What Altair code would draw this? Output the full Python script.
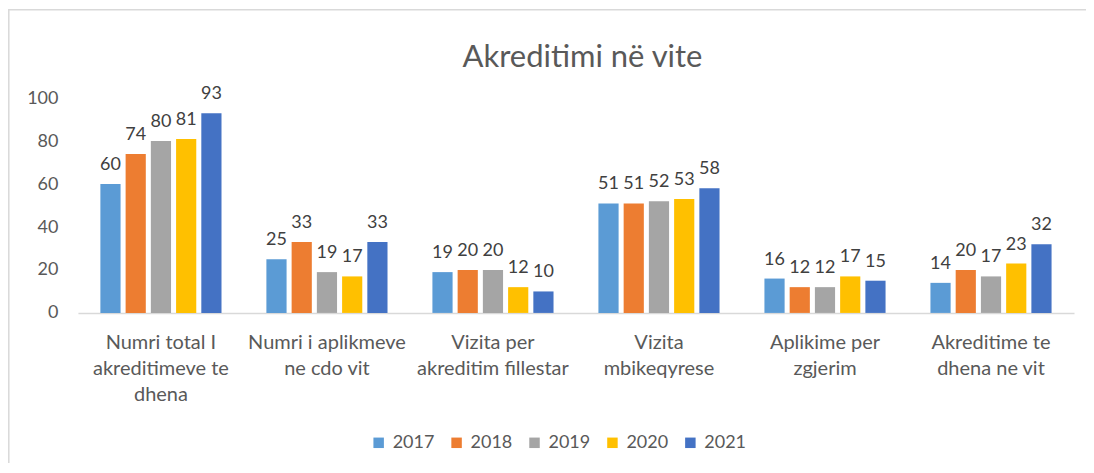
import altair as alt
import pandas as pd

categories = [
    "Numri total I\nakreditimeve te\ndhena",
    "Numri i aplikmeve\nne cdo vit",
    "Vizita per\nakreditim fillestar",
    "Vizita\nmbikeqyrese",
    "Aplikime per\nzgjerim",
    "Akreditime te\ndhena ne vit",
]
years = ["2017", "2018", "2019", "2020", "2021"]
v2017 = [60, 25, 19, 51, 16, 14]
v2018 = [74, 33, 20, 51, 12, 20]
v2019 = [80, 19, 20, 52, 12, 17]
v2020 = [81, 17, 12, 53, 17, 23]
v2021 = [93, 33, 10, 58, 15, 32]
colors = ["#5B9BD5", "#ED7D31", "#A5A5A5", "#FFC000", "#4472C4"]
title_text = "Akreditimi në vite"

series = [v2017, v2018, v2019, v2020, v2021]
rows = []
for y, vals in zip(years, series):
    for c, v in zip(categories, vals):
        rows.append({"cat": c, "year": y, "value": v})
df = pd.DataFrame(rows)

FONT = "Lato"
TXT = "#595959"

x_enc = alt.X(
    "cat:N", sort=categories, title=None,
    scale=alt.Scale(paddingInner=0.24, paddingOuter=0.12),
    axis=alt.Axis(labelExpr="split(datum.label, '\\n')", labelAngle=0,
                  labelFont=FONT, labelFontSize=20, labelColor=TXT,
                  labelLineHeight=26, labelPadding=20, ticks=False,
                  domainColor="#d9d9d9", domainWidth=1.5, labelBaseline="top"),
)
xo = alt.XOffset("year:N", sort=years, scale=alt.Scale(paddingInner=0.2, paddingOuter=0.1))
y_enc = alt.Y(
    "value:Q", title=None,
    scale=alt.Scale(domain=[0, 100]),
    axis=alt.Axis(values=[0, 20, 40, 60, 80, 100], grid=False, domain=False, ticks=False,
                  labelFont=FONT, labelFontSize=18, labelColor=TXT, labelPadding=20),
)

bars = alt.Chart(df).mark_bar().encode(
    x=x_enc, xOffset=xo, y=y_enc,
    color=alt.Color("year:N", sort=years, scale=alt.Scale(domain=years, range=colors),
                    legend=alt.Legend(title=None, orient="none", direction="horizontal",
                                      legendX=292, legendY=336, symbolType="square",
                                      symbolSize=110, symbolStrokeWidth=0,
                                      labelFont=FONT, labelFontSize=18, labelColor=TXT,
                                      columnPadding=13, labelOffset=5)),
)
labels = alt.Chart(df).mark_text(font=FONT, fontSize=18, color="#404040",
                                 baseline="middle", dy=-19).encode(
    x=alt.X("cat:N", sort=categories), xOffset=xo, y="value:Q", text="value:Q"
)
border = alt.Chart(alt.Data(values=[{}])).mark_rect(
    fill=None, stroke="#d9d9d9", strokeWidth=1.5
).encode(x=alt.value(-69.2), x2=alt.value(1030), y=alt.value(-88.5), y2=alt.value(390))
title = alt.Chart(alt.Data(values=[{"t": title_text}])).mark_text(
    font=FONT, fontSize=31, color=TXT, align="center", baseline="middle"
).encode(x=alt.value(505), y=alt.value(-40), text="t:N")

chart = alt.layer(border, bars, labels, title).properties(
    width=997, height=215,
    autosize=alt.AutoSizeParams(type="none"),
    padding={"left": 70, "top": 90, "right": 12, "bottom": 150},
).configure(background="white").configure_view(strokeWidth=0)

chart.save("out.html", embed_options={"renderer": "svg", "actions": False})
